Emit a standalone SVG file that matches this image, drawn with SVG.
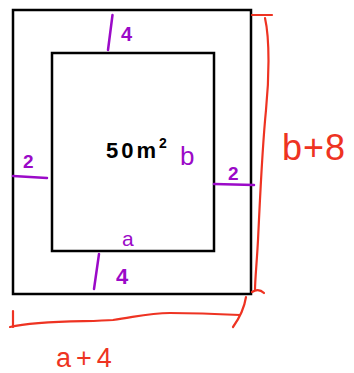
<svg xmlns="http://www.w3.org/2000/svg" width="354" height="373" viewBox="0 0 354 373">
<style>
.box{fill:none;stroke:#000;stroke-width:2.5}
.pur{fill:none;stroke:#9b0ac8;stroke-width:2.5;stroke-linecap:round}
.red{fill:none;stroke:#ee3322;stroke-width:2.2;stroke-linecap:round;stroke-linejoin:round}
.tp{fill:#9b0ac8;font-family:"Liberation Sans",sans-serif}
.tr{fill:#ee3322;font-family:"Liberation Sans",sans-serif}
.tb{fill:#000;font-family:"Liberation Sans",sans-serif}
</style>
<rect width="354" height="373" fill="#fff"/>
<rect class="box" x="13" y="10" width="238" height="284"/>
<rect class="box" x="52" y="53" width="162" height="198"/>
<path class="pur" d="M112.5,15 L108,50"/>
<text class="tp" x="121" y="41" font-size="20" font-weight="bold">4</text>
<path class="pur" d="M13,176 L47,178"/>
<text class="tp" x="23" y="168" font-size="19" font-weight="bold">2</text>
<path class="pur" d="M214,184 L254,185"/>
<text class="tp" x="228" y="180" font-size="19" font-weight="bold">2</text>
<text class="tb" x="106" y="158" font-size="22" font-weight="bold" letter-spacing="3">50m<tspan dy="-10" font-size="14" letter-spacing="0">2</tspan></text>
<text class="tp" x="180" y="165" font-size="26">b</text>
<text class="tp" x="122" y="246" font-size="21">a</text>
<path class="pur" d="M99,254 L94,289"/>
<text class="tp" x="116" y="284" font-size="22" font-weight="bold">4</text>
<path class="red" d="M252,15 L272,15"/>
<path class="red" d="M265,18 C270,40 269,80 266,110 C262,150 260,200 258,240 C257,260 255,280 255,290 M252,292 C255,290 259,288 264,293"/>
<text class="tr" x="282" y="160" font-size="36" letter-spacing="1">b+8</text>
<path class="red" d="M13,311 L13,327"/>
<path class="red" d="M10,327 C40,320 90,322 113,320 C140,316 150,313 170,313 C200,313 220,314 240,315"/>
<path class="red" d="M246,297 C244,310 238,320 233,327"/>
<text class="tr" x="56" y="367" font-size="27" letter-spacing="5">a+4</text>
</svg>
